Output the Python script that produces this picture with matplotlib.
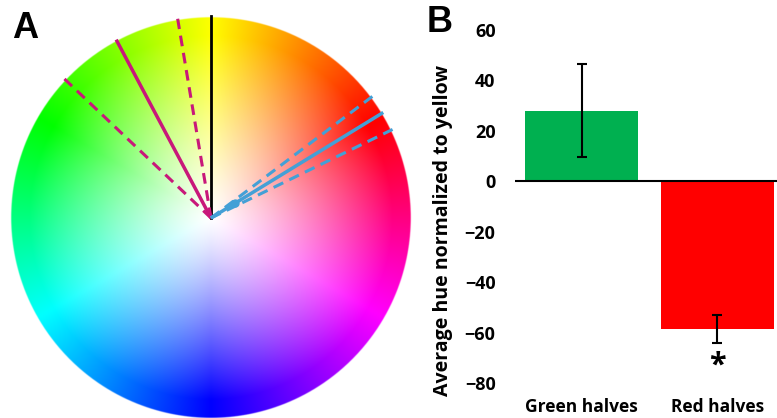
import numpy as np
import matplotlib.pyplot as plt
from matplotlib.colors import hsv_to_rgb

# hue shift relative to yellow (degrees), positive = toward green
groups = ["Green halves", "Red halves"]
means = [28.0, -58.5]
errors = [18.5, 5.5]
bar_colors = ["#00B050", "#FF0000"]
line_colors = ["#C8187A", "#44A0D6"]

plt.rcParams["font.family"] = ["Open Sans", "DejaVu Sans"]
plt.rcParams["font.weight"] = "bold"

fig = plt.figure(figsize=(7.77, 4.18), dpi=100)

# ---- panel A: hue wheel, yellow at the top ----
axA = fig.add_axes([0, 0, 420 / 777, 1])
n = 900
xs = np.linspace(-1.02, 1.02, n)
X, Y = np.meshgrid(xs, xs)
R = np.hypot(X, Y)
theta = np.degrees(np.arctan2(Y, X))
H = ((theta - 30) % 360) / 360
S = np.clip(R * 1.1, 0, 1) ** 1.2
V = np.ones_like(R)
rgb = hsv_to_rgb(np.dstack([H, S, V]))
alpha = np.clip((1 - R) * 200 + 0.5, 0, 1)
img = np.dstack([rgb, alpha])
axA.imshow(img, extent=(-1.02, 1.02, -1.02, 1.02), origin="lower", interpolation="bilinear")

# yellow reference
axA.plot([0, 0], [0, 1.01], color="black", lw=2)
for m, e, c in zip(means, errors, line_colors):
    ang = np.radians(90 + m)
    axA.plot([0, 1.01 * np.cos(ang)], [0, 1.01 * np.sin(ang)], color=c, lw=2.5, solid_capstyle="butt")
    for d in (-e, e):
        a = np.radians(90 + m + d)
        axA.plot([0, 1.01 * np.cos(a)], [0, 1.01 * np.sin(a)], color=c, lw=2.2,
                 dashes=(3.5, 2.2), dash_capstyle="butt")
ang = np.radians(90 + means[1])
axA.plot([0.14 * np.cos(ang)], [0.14 * np.sin(ang)], "o", color=line_colors[1], ms=5)

axA.set_xlim(-211 / 200, 209 / 200)
axA.set_ylim(-200 / 200, 218 / 200)
axA.set_aspect("equal")
axA.axis("off")
fig.text(12 / 777, 1 - 38 / 418, "A", fontsize=26, weight="bold", family="Liberation Sans")

# ---- panel B: bar chart ----
axB = fig.add_axes([515 / 777, 1 - 383 / 418, 262 / 777, 353 / 418])
x = np.arange(len(groups))
axB.bar(x, means, width=0.83, color=bar_colors, zorder=2)
axB.errorbar(x, means, yerr=errors, fmt="none", ecolor="black", elinewidth=1.5,
             capsize=3.5, capthick=1.5, zorder=3)
axB.axhline(0, color="black", lw=1.5, zorder=4)
axB.text(1, -73, "*", ha="center", va="center", fontsize=22, weight="bold")

axB.set_xlim(-0.49, 1.44)
axB.set_ylim(-80, 60)
axB.set_yticks(range(-80, 61, 20))
axB.set_xticks(x)
axB.set_xticklabels(groups)
axB.tick_params(axis="y", length=0, labelsize=13, pad=14)
axB.tick_params(axis="x", length=0, labelsize=12.5, pad=11)
for s in axB.spines.values():
    s.set_visible(False)
axB.set_ylabel("Average hue normalized to yellow", fontsize=14, weight="bold")
axB.yaxis.set_label_coords(-0.237, 0.433)
fig.text(427 / 777, 1 - 32 / 418, "B", fontsize=26, weight="bold", family="Liberation Sans")

fig.savefig("out.png", dpi=100)
